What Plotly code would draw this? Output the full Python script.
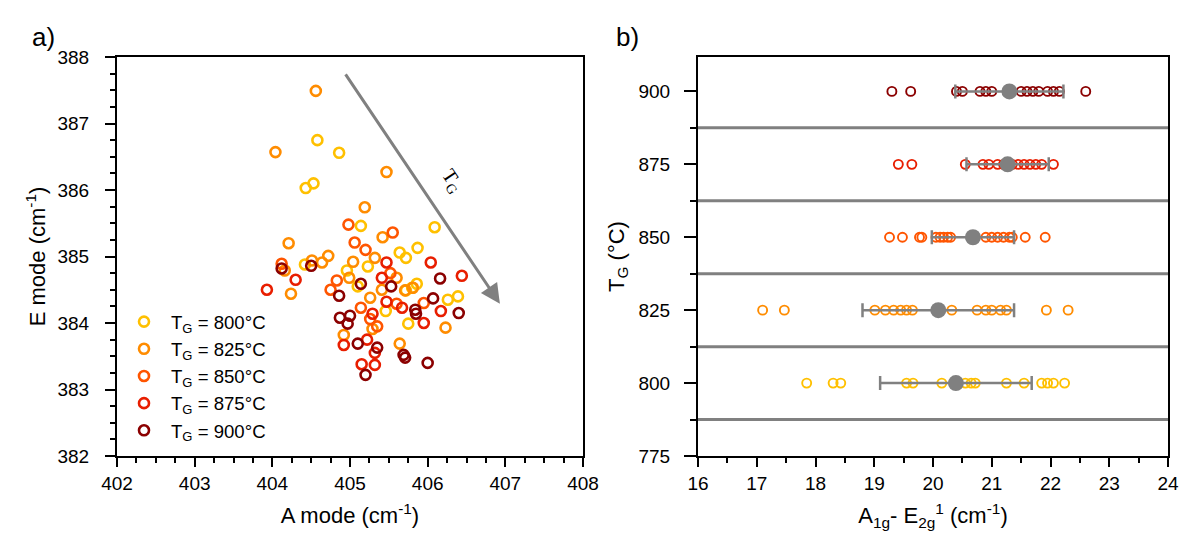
import plotly.graph_objects as go

FONT = "Liberation Sans, Arial, sans-serif"

# ---------------- data ----------------
temps = [800, 825, 850, 875, 900]
colors = ["#FFC000", "#FF8C00", "#FF5500", "#E81E00", "#8B0000"]
legend_labels = ["T<sub>G</sub> = 800°C", "T<sub>G</sub> = 825°C", "T<sub>G</sub> = 850°C",
                 "T<sub>G</sub> = 875°C", "T<sub>G</sub> = 900°C"]

# panel a) A mode / E mode
a800 = [404.58, 404.86, 404.43, 404.53, 405.14, 406.09, 405.64, 405.72, 405.87, 405.23, 404.42,
        404.96, 405.86, 405.80, 405.72, 406.26, 406.39, 405.46, 405.75, 405.10]
e800 = [386.75, 386.56, 386.03, 386.10, 385.46, 385.44, 385.06, 384.98, 385.13, 384.85, 384.88,
        384.79, 384.59, 384.53, 384.49, 384.35, 384.40, 384.18, 383.99, 384.55]
a825 = [404.56, 404.04, 405.47, 405.19, 404.21, 405.42, 405.32, 405.04, 404.72, 404.64, 404.51,
        404.16, 404.24, 404.99, 405.60, 405.41, 405.71, 405.26, 405.29, 404.92, 405.64, 406.23, 405.81]
e825 = [387.49, 386.57, 386.27, 385.74, 385.20, 385.29, 384.98, 384.92, 385.01, 384.91, 384.94,
        384.79, 384.44, 384.68, 384.68, 384.50, 384.49, 384.38, 383.91, 383.82, 383.69, 383.93, 384.53]
a850 = [404.98, 405.06, 405.55, 405.20, 404.12, 404.83, 404.75, 405.60, 405.14, 405.26, 405.52,
        405.35, 405.95]
e850 = [385.48, 385.21, 385.36, 385.10, 384.89, 384.64, 384.50, 384.29, 384.23, 384.06, 384.75,
        383.95, 384.30]
a875 = [405.47, 404.30, 403.93, 405.41, 405.47, 405.67, 405.29, 404.92, 405.22, 405.32, 405.15,
        405.32, 406.04, 406.44, 405.95, 406.17]
e875 = [384.91, 384.65, 384.50, 384.68, 384.32, 384.23, 384.14, 383.67, 383.75, 383.55, 383.38,
        383.37, 384.91, 384.71, 384.00, 384.18]
a900 = [404.12, 404.50, 404.86, 405.14, 405.53, 405.84, 404.87, 405.00, 404.97, 405.10, 405.35,
        405.69, 405.71, 405.20, 406.16, 406.07, 406.40, 405.85, 406.00]
e900 = [384.82, 384.86, 384.41, 384.59, 384.55, 384.20, 384.08, 384.11, 383.99, 383.69, 383.63,
        383.52, 383.48, 383.22, 384.67, 384.37, 384.15, 384.14, 383.40]

# panel b) A1g - E2g difference
d800 = [17.85, 18.30, 18.43, 19.55, 19.66, 20.15, 20.55, 20.65, 20.72, 21.25, 21.55, 21.85,
        21.95, 22.05, 22.24]
d825 = [17.10, 17.47, 19.01, 19.19, 19.33, 19.45, 19.55, 19.65, 20.32, 20.75, 20.90, 21.00,
        21.15, 21.25, 21.93, 22.30]
d850 = [19.26, 19.48, 19.77, 19.81, 20.05, 20.12, 20.18, 20.25, 20.30, 20.90, 21.00, 21.10,
        21.20, 21.30, 21.35, 21.57, 21.91]
d875 = [19.41, 19.64, 20.55, 20.85, 20.95, 21.10, 21.20, 21.35, 21.45, 21.55, 21.65, 21.75,
        21.85, 22.05]
d900 = [19.30, 19.62, 20.40, 20.50, 20.80, 20.90, 21.00, 21.50, 21.60, 21.70, 21.80, 21.95,
        22.05, 22.15, 22.60]
mean_diff = [20.39, 20.09, 20.68, 21.27, 21.30]
std_diff = [1.29, 1.29, 0.70, 0.70, 0.92]
separators = [787.5, 812.5, 837.5, 862.5, 887.5]

a_vals = [a800, a825, a850, a875, a900]
e_vals = [e800, e825, e850, e875, e900]
d_vals = [d800, d825, d850, d875, d900]

# ---------------- figure ----------------
fig = go.Figure()

for i in range(5):
    fig.add_trace(go.Scatter(
        x=a_vals[i], y=e_vals[i], mode="markers", name=legend_labels[i],
        marker=dict(symbol="circle-open", size=10, color=colors[i], line=dict(width=2.6, color=colors[i])),
        xaxis="x", yaxis="y", showlegend=True))

# separators in panel b
sx, sy = [], []
for s in separators:
    sx += [16, 24, None]
    sy += [s, s, None]
fig.add_trace(go.Scatter(x=sx, y=sy, mode="lines", line=dict(color="#808080", width=3),
                         xaxis="x2", yaxis="y2", showlegend=False, hoverinfo="skip"))

for i in range(5):
    fig.add_trace(go.Scatter(
        x=d_vals[i], y=[temps[i]] * len(d_vals[i]), mode="markers",
        marker=dict(symbol="circle-open", size=9, color=colors[i], line=dict(width=1.9, color=colors[i])),
        xaxis="x2", yaxis="y2", showlegend=False))

fig.add_trace(go.Scatter(
    x=mean_diff, y=temps, mode="markers",
    marker=dict(symbol="circle", size=16, color="#808080"),
    error_x=dict(type="data", array=std_diff, color="#808080", thickness=2.5, width=7),
    xaxis="x2", yaxis="y2", showlegend=False))

W, H = 1188, 539
L1, R1 = 117 / W, 583 / W
L2, R2 = 698 / W, 1168 / W
B, T = 1 - 456 / H, 1 - 57 / H

axis_common = dict(showline=True, linecolor="black", linewidth=2, mirror=True, ticks="outside",
                   tickwidth=2, tickcolor="black", showgrid=False, zeroline=False,
                   automargin=False,
                   tickfont=dict(family=FONT, size=19, color="black"),
                   title_font=dict(family=FONT, size=22, color="black"))

fig.update_layout(
    width=W, height=H, margin=dict(l=0, r=0, t=0, b=0),
    paper_bgcolor="white", plot_bgcolor="white",
    font=dict(family=FONT, color="black"),
    xaxis=dict(domain=[L1, R1], anchor="y", range=[402, 408], dtick=1, ticklen=9,
               minor=dict(dtick=0.25, ticks="outside", ticklen=5, tickwidth=1.5, tickcolor="black"),
               title=dict(text="A mode (cm<sup>-1</sup>)", standoff=15), **axis_common),
    yaxis=dict(domain=[B, T], anchor="x", range=[382, 388], dtick=1, ticklen=10, ticklabelstandoff=12,
               minor=dict(dtick=0.25, ticks="outside", ticklen=5, tickwidth=1.5, tickcolor="black"),
               title=dict(text="E mode (cm<sup>-1</sup>)", standoff=6), **axis_common),
    xaxis2=dict(domain=[L2, R2], anchor="y2", range=[16, 24], dtick=1, ticklen=9,
                minor=dict(dtick=0.5, ticks="outside", ticklen=5, tickwidth=1.5, tickcolor="black"),
                title=dict(text="A<sub>1g</sub>- E<sub>2g</sub><sup>1</sup> (cm<sup>-1</sup>)", standoff=15),
                **axis_common),
    yaxis2=dict(domain=[B, T], anchor="x2", range=[775, 911.8], tickvals=temps + [775],
                ticklen=12, ticklabelstandoff=10,
                minor=dict(tickvals=separators, ticks="outside", ticklen=6, tickwidth=1.5, tickcolor="black"),
                title=dict(text="T<sub>G</sub> (°C)", standoff=8), **axis_common),
    legend=dict(x=117 / W, y=1 - 303 / H, xanchor="left", yanchor="top",
                bgcolor="rgba(0,0,0,0)", font=dict(family=FONT, size=18.6, color="black"),
                itemsizing="trace", itemwidth=44, tracegroupgap=0),
)

fig.add_annotation(x=406.93, y=384.29, ax=404.93, ay=387.76, xref="x", yref="y", axref="x", ayref="y",
                   text="", showarrow=True, arrowhead=2, arrowsize=1.3, arrowwidth=3, arrowcolor="#808080")
fig.add_annotation(x=406.31, y=386.14, xref="x", yref="y", text="T<sub>G</sub>", showarrow=False,
                   textangle=56, font=dict(family="Liberation Serif, Times New Roman, serif", size=20, color="black"))
fig.add_annotation(x=30 / W, y=1 - 20 / H, xref="paper", yref="paper", text="a)", showarrow=False,
                   font=dict(family=FONT, size=26, color="black"))
fig.add_annotation(x=627 / W, y=1 - 20 / H, xref="paper", yref="paper", text="b)", showarrow=False,
                   font=dict(family=FONT, size=26, color="black"))

fig.write_html("out.html")
